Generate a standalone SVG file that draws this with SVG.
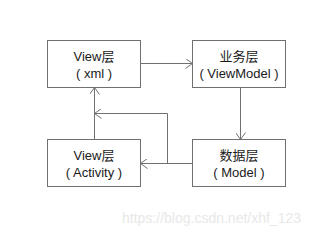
<svg xmlns="http://www.w3.org/2000/svg" width="334" height="237" viewBox="0 0 334 237">
<style>
.box{fill:#fff;stroke:#707070;stroke-width:1}
.t{font-family:"Liberation Sans","Noto Sans CJK SC",sans-serif;font-size:13px;fill:#1a1a1a;text-anchor:middle}
.c{fill:none;stroke:#707070;stroke-width:1}
.wm{font-family:"Liberation Sans",sans-serif;font-size:14px;fill:#e8e8e8}
</style>
<defs>
<marker id="a" viewBox="0 0 10 10" refX="10" refY="5" markerWidth="10" markerHeight="10" markerUnits="userSpaceOnUse" orient="auto">
<path d="M3,0 L10,5 L3,10" fill="none" stroke="#707070" stroke-width="1"/>
</marker>
</defs>
<rect width="334" height="237" fill="#fff"/>
<g id="connectors">
<path class="c" d="M140.5,63.5 H192.5" marker-end="url(#a)"/>
<path class="c" d="M240.5,87.5 V139.5" marker-end="url(#a)"/>
<path class="c" d="M192.5,163.5 H140.5" marker-end="url(#a)"/>
<path class="c" d="M167.5,163.5 V113.5 H94.5" marker-end="url(#a)"/>
<path class="c" d="M94.5,139.5 V87.5" marker-end="url(#a)"/>
</g>
<g id="view-xml">
<rect class="box" x="47.5" y="40.5" width="93" height="47"/>
<text class="t" x="94" y="61">View层</text>
<text class="t" x="94" y="78">( xml )</text>
</g>
<g id="viewmodel">
<rect class="box" x="192.5" y="40.5" width="93" height="47"/>
<text class="t" x="239" y="61">业务层</text>
<text class="t" x="239" y="78">( ViewModel )</text>
</g>
<g id="view-activity">
<rect class="box" x="47.5" y="139.5" width="93" height="47"/>
<text class="t" x="94" y="160">View层</text>
<text class="t" x="94" y="177">( Activity )</text>
</g>
<g id="model">
<rect class="box" x="192.5" y="139.5" width="93" height="47"/>
<text class="t" x="239" y="160">数据层</text>
<text class="t" x="239" y="177">( Model )</text>
</g>
<text class="wm" x="122" y="223">https://blog.csdn.net/xhf_123</text>
</svg>
